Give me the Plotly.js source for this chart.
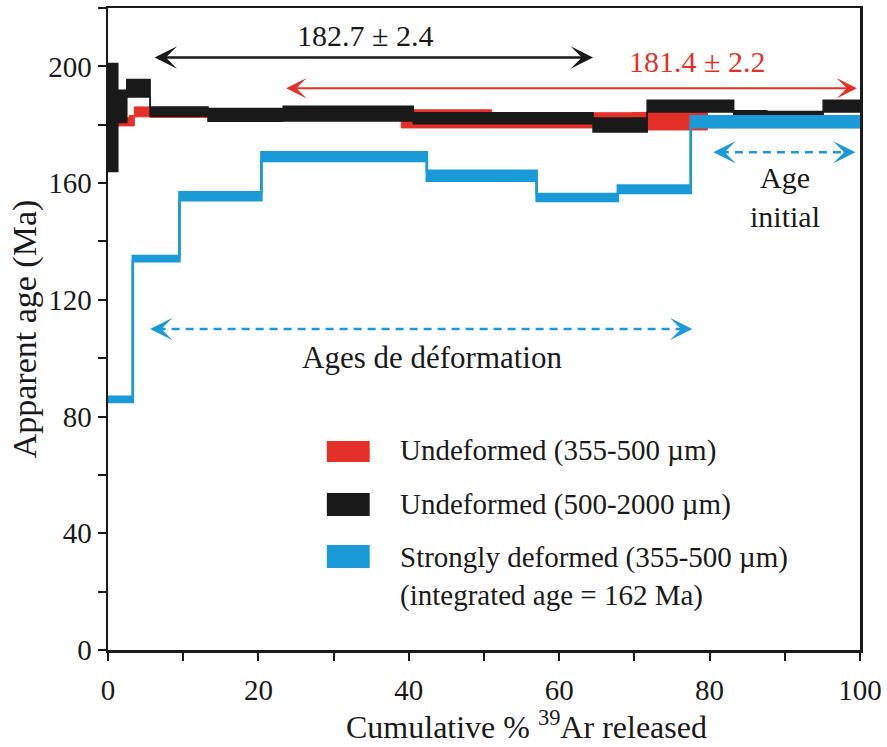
<!DOCTYPE html>
<html>
<head>
<meta charset="utf-8">
<script src="https://cdn.plot.ly/plotly-3.0.1.min.js"></script>
<style>
  html, body { margin: 0; padding: 0; background: #ffffff; }
  #chart { width: 887px; height: 747px; }
</style>
</head>
<body>
<div id="chart"></div>
<script>
// ---- Data: step-heating spectra (cumulative % 39Ar edges, apparent age, 1-sigma half-height) ----
const redEdges   = [0, 2.8, 3.5, 5.6, 39, 51, 69.7, 79.7, 100];
const redAge     = [181.0, 181.4, 184.4, 184.0, 182.0, 181.5, 181.2, 181.0];
const redErr     = [1.4, 1.8, 1.7, 1.5, 3.1, 2.6, 3.0, 2.0];

const blackEdges = [0, 1.3, 2.5, 5.6, 13.3, 23.3, 40.6, 64.5, 71.7, 83.2, 87.6, 95.1, 100];
const blackAge   = [182.5, 186.3, 192.5, 184.5, 183.4, 183.8, 182.2, 179.9, 186.4, 183.9, 183.5, 186.4];
const blackErr   = [18.5, 5.5, 3.0, 1.6, 2.2, 2.5, 1.9, 2.4, 2.0, 0.9, 1.0, 2.0];

const blueEdges  = [0, 3.3, 9.5, 20.4, 42.4, 57, 67.8, 77.5, 100];
const blueAge    = [85.9, 134.1, 155.5, 169.1, 162.5, 155.1, 157.9, 181.0];
const blueErr    = [0.9, 0.9, 1.4, 1.5, 1.7, 1.2, 1.3, 1.9];

const seriesNames = ['Undeformed (355-500 µm)', 'Undeformed (500-2000 µm)', 'Strongly deformed (355-500 µm)'];
const noteIntegrated = '(integrated age = 162 Ma)';
const plateauBlack = '182.7 ± 2.4';
const plateauRed = '181.4 ± 2.2';
const labelInitial = 'Age<br>initial';
const labelDeform = 'Ages de déformation';
const xTitle = 'Cumulative % <sup>39</sup>Ar released';
const yTitle = 'Apparent age (Ma)';

const RED = '#e5302a', BLACK = '#1a1a1a', BLUE = '#1a9ad6';
const FONT = 'Liberation Serif';

function stepTraces(edges, age, err, color, lw, name) {
  const lo = age.map((a, i) => a - err[i]); lo.push(lo[lo.length - 1]);
  const hi = age.map((a, i) => a + err[i]); hi.push(hi[hi.length - 1]);
  return [
    {x: edges, y: lo, mode: 'lines', line: {shape: 'hv', color: color, width: lw},
     showlegend: false, hoverinfo: 'skip', name: name},
    {x: edges, y: hi, mode: 'lines', line: {shape: 'hv', color: color, width: lw},
     fill: 'tonexty', fillcolor: color, showlegend: false, name: name}
  ];
}

const data = [].concat(
  stepTraces(redEdges, redAge, redErr, RED, 1, seriesNames[0]),
  stepTraces(blackEdges, blackAge, blackErr, BLACK, 1.5, seriesNames[1]),
  stepTraces(blueEdges, blueAge, blueErr, BLUE, 2.5, seriesNames[2])
);

function arrowHead(xTip, xTail, y, color, size, width) {
  return {x: xTip, y: y, ax: xTail, ay: y, xref: 'x', yref: 'y', axref: 'x', ayref: 'y',
    text: '', showarrow: true, arrowhead: 3, arrowsize: size, arrowwidth: width, arrowcolor: color};
}

const annotations = [
  // black double arrow + label
  {x: 64.5, y: 203, ax: 6.0, ay: 203, xref: 'x', yref: 'y', axref: 'x', ayref: 'y',
   text: '', showarrow: true, arrowside: 'end+start', arrowhead: 3, startarrowhead: 3,
   arrowsize: 1.5, startarrowsize: 1.5, arrowwidth: 2.5, arrowcolor: BLACK},
  {x: 34.2, y: 210.6, xref: 'x', yref: 'y', text: plateauBlack, showarrow: false,
   font: {family: FONT, size: 30, color: BLACK}},
  // red double arrow + label
  {x: 99.6, y: 192.5, ax: 23.5, ay: 192.5, xref: 'x', yref: 'y', axref: 'x', ayref: 'y',
   text: '', showarrow: true, arrowside: 'end+start', arrowhead: 3, startarrowhead: 3,
   arrowsize: 1.7, startarrowsize: 1.7, arrowwidth: 2, arrowcolor: RED},
  {x: 78.3, y: 201.7, xref: 'x', yref: 'y', text: plateauRed, showarrow: false,
   font: {family: FONT, size: 30, color: RED}},
  // dashed arrow heads (Age initial)
  arrowHead(80.5, 82.0, 170.6, BLUE, 1.5, 2.5),
  arrowHead(99.4, 97.9, 170.6, BLUE, 1.5, 2.5),
  {x: 90.0, y: 155.2, xref: 'x', yref: 'y', text: labelInitial, showarrow: false,
   font: {family: FONT, size: 30, color: BLACK}},
  // dashed arrow heads (Ages de deformation)
  arrowHead(5.6, 7.1, 110.0, BLUE, 1.5, 2.5),
  arrowHead(77.7, 76.2, 110.0, BLUE, 1.5, 2.5),
  {x: 43.1, y: 100.3, xref: 'x', yref: 'y', text: labelDeform, showarrow: false,
   font: {family: FONT, size: 31, color: BLACK}},
  // legend text
  {x: 38.6, y: 68.2, xref: 'x', yref: 'y', xanchor: 'left', text: seriesNames[0], showarrow: false,
   font: {family: FONT, size: 29, color: BLACK}},
  {x: 38.6, y: 50.0, xref: 'x', yref: 'y', xanchor: 'left', text: seriesNames[1], showarrow: false,
   font: {family: FONT, size: 29, color: BLACK}},
  {x: 38.6, y: 31.8, xref: 'x', yref: 'y', xanchor: 'left', text: seriesNames[2], showarrow: false,
   font: {family: FONT, size: 29, color: BLACK}},
  {x: 38.6, y: 18.8, xref: 'x', yref: 'y', xanchor: 'left', text: noteIntegrated, showarrow: false,
   font: {family: FONT, size: 29, color: BLACK}},
  // x axis title (offset to the right as in the reference)
  {x: 0.557, y: -0.117, xref: 'paper', yref: 'paper', xanchor: 'center', yanchor: 'middle',
   text: xTitle, showarrow: false, font: {family: FONT, size: 32, color: BLACK}}
];

const shapes = [
  {type: 'line', xref: 'x', yref: 'y', x0: 81.5, x1: 98.4, y0: 170.6, y1: 170.6,
   line: {color: BLUE, width: 2.5, dash: '8px,6px'}},
  {type: 'line', xref: 'x', yref: 'y', x0: 6.6, x1: 76.7, y0: 110.0, y1: 110.0,
   line: {color: BLUE, width: 2.5, dash: '8px,6px'}},
  // legend swatches
  {type: 'rect', xref: 'x', yref: 'y', x0: 29.1, x1: 34.8, y0: 64.4, y1: 71.6,
   fillcolor: RED, line: {width: 0}},
  {type: 'rect', xref: 'x', yref: 'y', x0: 29.1, x1: 34.8, y0: 45.9, y1: 53.8,
   fillcolor: BLACK, line: {width: 0}},
  {type: 'rect', xref: 'x', yref: 'y', x0: 29.1, x1: 34.8, y0: 28.1, y1: 36.0,
   fillcolor: BLUE, line: {width: 0}}
];

const axisCommon = {
  showline: true, mirror: true, linecolor: BLACK, linewidth: 2.5,
  showgrid: false, zeroline: false,
  ticks: 'outside', ticklen: 8, tickwidth: 2, tickcolor: BLACK,
  tickfont: {family: FONT, size: 29, color: BLACK}
};

const layout = {
  width: 887, height: 747,
  margin: {l: 108, r: 27, t: 8, b: 97},
  paper_bgcolor: '#ffffff', plot_bgcolor: '#ffffff',
  showlegend: false,
  font: {family: FONT, color: BLACK},
  xaxis: Object.assign({}, axisCommon, {
    range: [0, 100], tick0: 0, dtick: 20, ticklabelstandoff: 5,
    minor: {dtick: 10, ticks: 'outside', ticklen: 8, tickwidth: 2, tickcolor: BLACK, showgrid: false}
  }),
  yaxis: Object.assign({}, axisCommon, {
    range: [0, 220], tick0: 0, dtick: 40,
    minor: {dtick: 20, ticks: 'outside', ticklen: 8, tickwidth: 2, tickcolor: BLACK, showgrid: false},
    title: {text: yTitle, font: {family: FONT, size: 34, color: BLACK}, standoff: 2}
  }),
  annotations: annotations,
  shapes: shapes
};

Plotly.newPlot('chart', data, layout, {displayModeBar: false, staticPlot: true});
</script>
</body>
</html>
